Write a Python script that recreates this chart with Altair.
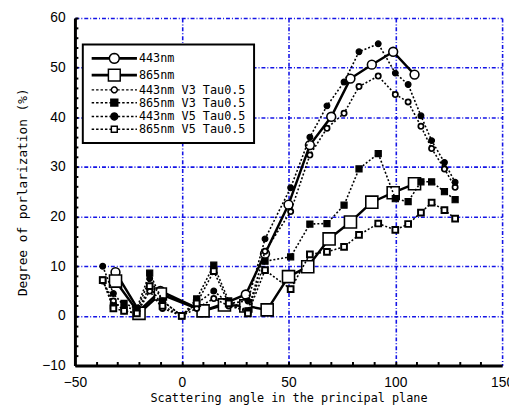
import math
import altair as alt
import pandas as pd

# ---------------- data ----------------
names = ["443nm", "865nm", "443nm V3 Tau0.5", "865nm V3 Tau0.5",
         "443nm V5 Tau0.5", "865nm V5 Tau0.5"]

x_443 = [-31, -20, -10, 10, 20, 30, 39, 50, 60, 70, 79, 89, 99, 109]
y_443 = [8.8, 1.0, 5.0, 1.0, 2.5, 4.3, 12.5, 22.4, 34.4, 40.1, 47.8, 50.6, 53.2, 48.6]

x_865 = [-31, -20, -10, 10, 20, 30, 40, 50, 59, 69, 79, 89, 99, 109]
y_865 = [7.0, 0.5, 4.4, 1.0, 2.2, 2.0, 1.2, 7.9, 9.9, 15.5, 18.9, 22.9, 24.8, 26.6]

x_v = [-37, -32, -27, -21, -15, -9, 0, 7, 15, 22, 31, 39, 51, 60, 68, 76, 83, 92,
       100, 106, 112, 117, 123, 128]
y_443_v3 = [7.0, 3.0, 1.0, 0.5, 5.0, 1.5, 0.0, 1.5, 3.5, 2.0, 1.0, 13.0, 21.0, 32.4,
            37.8, 40.8, 46.2, 48.3, 44.6, 43.1, 38.2, 33.7, 29.6, 25.9]
y_865_v3 = [7.2, 2.0, 2.5, 1.5, 8.6, 3.0, 0.0, 3.4, 10.2, 3.0, 1.0, 11.0, 11.9, 18.5,
            18.6, 22.3, 29.6, 32.7, 23.6, 23.0, 27.0, 27.0, 25.0, 23.4]
y_443_v5 = [10.0, 4.5, 2.0, 1.0, 7.5, 3.0, 0.0, 2.5, 5.0, 2.5, 3.0, 15.5, 25.8, 36.0,
            42.3, 47.1, 53.2, 54.8, 48.9, 46.6, 40.3, 35.3, 30.9, 26.9]
y_865_v5 = [7.2, 1.5, 1.0, 0.5, 6.0, 2.0, 0.0, 2.5, 9.0, 2.5, 0.5, 9.2, 5.4, 12.4,
            12.9, 13.9, 16.3, 18.6, 17.3, 18.5, 20.8, 22.8, 21.3, 19.6]

x_major = [-50, 0, 50, 100, 150]
x_minor = [-40, -30, -20, -10, 0, 10, 20, 30, 40, 50, 60, 70, 80, 90, 100, 110, 120, 130, 140]
y_major = [-10, 0, 10, 20, 30, 40, 50, 60]
y_minor = list(range(-10, 61, 2))

series_data = [
    (names[0], x_443, y_443),
    (names[1], x_865, y_865),
    (names[2], x_v, y_443_v3),
    (names[3], x_v, y_865_v3),
    (names[4], x_v, y_443_v5),
    (names[5], x_v, y_865_v5),
]

# ---------------- styles ----------------
W, H = 434, 353
BLUE = "#1414e6"
solid = {"strokeWidth": 2.5}
dotted = {"strokeWidth": 1.6, "strokeDash": [2, 2]}
line_styles = [solid, solid, dotted, dotted, dotted, dotted]
point_styles = [
    dict(shape="circle", size=80, fill="white", stroke="black", strokeWidth=1.6),
    dict(shape="square", size=150, fill="white", stroke="black", strokeWidth=1.6),
    dict(shape="circle", size=28, fill="white", stroke="black", strokeWidth=1.8),
    dict(shape="square", size=38, fill="black", stroke="black", strokeWidth=1.2),
    dict(shape="circle", size=34, fill="black", stroke="black", strokeWidth=1.2),
    dict(shape="square", size=34, fill="white", stroke="black", strokeWidth=2.0),
]


def seg(x0, x1, dashed):
    if not dashed:
        return (f"M{x0},-0.14L{x1},-0.14M{x0},0.14L{x1},0.14")
    out = ""
    x = x0
    while x < x1:
        e = min(x + 0.5, x1)
        out += f"M{x:.2f},0L{e:.2f},0"
        x += 0.9
    return out


def circ(cx, r, n=20):
    pts = [(cx + r * math.cos(2 * math.pi * k / n), r * math.sin(2 * math.pi * k / n))
           for k in range(n)]
    return "M" + "L".join(f"{px:.3f},{py:.3f}" for px, py in pts) + "Z"


def sq(cx, h):
    return f"M{cx - h},{-h}L{cx + h},{-h}L{cx + h},{h}L{cx - h},{h}Z"


CX, L0, L1 = 3.6, -1.0, 8.2
legend_paths = [
    seg(L0, CX - 1.0, False) + seg(CX + 1.0, L1, False) + circ(CX, 1.0),
    seg(L0, CX - 1.2, False) + seg(CX + 1.2, L1, False) + sq(CX, 1.2),
    seg(L0, CX - 0.6, True) + seg(CX + 0.6, L1, True) + circ(CX, 0.6),
    seg(L0, CX - 0.7, True) + seg(CX + 0.7, L1, True) + sq(CX, 0.7),
    seg(L0, CX - 0.7, True) + seg(CX + 0.7, L1, True) + circ(CX, 0.7),
    seg(L0, CX - 0.7, True) + seg(CX + 0.7, L1, True) + sq(CX, 0.6),
]
legend_fills = ["white", "white", "white", "black", "black", "white"]
legend_strokes = ["black"] * 6

# shadow box behind the legend: one symbol, 170 x 95 px (5 px per unit)
shadow_path = "M-1,-1L33,-1L33,18L-1,18Z"
shadow_domain = ["shadow"]

xscale = alt.Scale(domain=[-50, 150], nice=False, zero=False)
yscale = alt.Scale(domain=[-10, 60], nice=False, zero=False)

main_x_axis = alt.Axis(values=x_major, grid=True, gridColor=BLUE, gridDash=[4, 2, 1, 2],
                       gridWidth=1.6, gridOpacity=1, ticks=False, domainColor="black",
                       domainWidth=3, labelFont="Liberation Sans", labelFontSize=14,
                       labelColor="black", labelPadding=10, labelFlush=False,
                       title="Scattering angle in the principal plane",
                       titleFont="DejaVu Sans Mono", titleFontSize=12,
                       titleFontWeight="normal", titleColor="black", titlePadding=4)
main_y_axis = alt.Axis(values=y_major, grid=True, gridColor=BLUE, gridDash=[4, 2, 1, 2],
                       gridWidth=1.6, gridOpacity=1, ticks=False, domainColor="black",
                       domainWidth=3, labelFont="Liberation Sans", labelFontSize=14,
                       labelColor="black", labelPadding=10, labelFlush=False,
                       title="Degree of porlarization (%)",
                       titleFont="DejaVu Sans Mono", titleFontSize=13,
                       titleFontWeight="normal", titleColor="black", titlePadding=12)
tick_x_axis = alt.Axis(orient="top", offset=-H, values=x_minor, ticks=True, tickSize=4,
                       tickWidth=2, tickColor="black", labels=False, domain=False,
                       grid=False, title=None)
tick_y_axis = alt.Axis(orient="right", offset=-W, values=y_minor, ticks=True, tickSize=3,
                       tickWidth=2, tickColor="black", labels=False, domain=False,
                       grid=False, title=None)

layers = []
for i, (name, xs, ys) in enumerate(series_data):
    df = pd.DataFrame({"x": xs, "y": ys, "series": name})
    if i == 0:
        xa, ya = main_x_axis, main_y_axis
    else:
        xa, ya = None, None
    line = alt.Chart(df).mark_line(color="black", **line_styles[i]).encode(
        x=alt.X("x:Q", scale=xscale, axis=xa),
        y=alt.Y("y:Q", scale=yscale, axis=ya),
    )
    if i == 0:
        pxa, pya = tick_x_axis, tick_y_axis
    else:
        pxa, pya = None, None
    pts = alt.Chart(df).mark_point(opacity=1, **point_styles[i]).encode(
        x=alt.X("x:Q", scale=xscale, axis=pxa),
        y=alt.Y("y:Q", scale=yscale, axis=pya),
    )
    layers += [line, pts]

leg_df = pd.DataFrame({"series": names, "shadow": ["shadow"] * 6})
legend = alt.Legend(orient="none", legendX=8, legendY=27, title=None,
                    strokeColor="black", fillColor="white", padding=8,
                    symbolSize=100, symbolStrokeWidth=1.5,
                    symbolStrokeColor="black", symbolOpacity=1,
                    labelFont="DejaVu Sans Mono", labelFontSize=12, labelColor="black",
                    labelOffset=37, rowPadding=0, zindex=5)
shadow_legend = alt.Legend(orient="none", legendX=12, legendY=31, title=None,
                           padding=0, symbolSize=100, symbolStrokeWidth=0,
                           symbolStrokeColor="black", symbolFillColor="black",
                           symbolType=shadow_path, symbolOpacity=1,
                           labelExpr="''", labelFontSize=1, labelOffset=0, zindex=4)
legend_layer = alt.Chart(leg_df).mark_point(
    opacity=1, filled=False, color="black", strokeWidth=1.5
).encode(
    shape=alt.Shape("series:N", scale=alt.Scale(domain=names, range=legend_paths),
                    legend=legend),
    fill=alt.Fill("series:N", scale=alt.Scale(domain=names, range=legend_fills),
                  legend=legend),
    stroke=alt.Stroke("series:N", scale=alt.Scale(domain=names, range=legend_strokes),
                      legend=legend),
    opacity=alt.Opacity("shadow:O", scale=alt.Scale(domain=shadow_domain, range=[1]),
                        legend=shadow_legend),
).transform_filter("false")

chart = alt.layer(*layers, legend_layer).resolve_axis(
    x="independent", y="independent"
).properties(
    width=W, height=H,
    autosize=alt.AutoSizeParams(type="none"),
    padding={"left": 68, "top": 7, "right": 7, "bottom": 38},
).configure_view(stroke=None).configure_legend(strokeWidth=2)

chart.save("out.html", embed_options={"renderer": "svg", "actions": False})
